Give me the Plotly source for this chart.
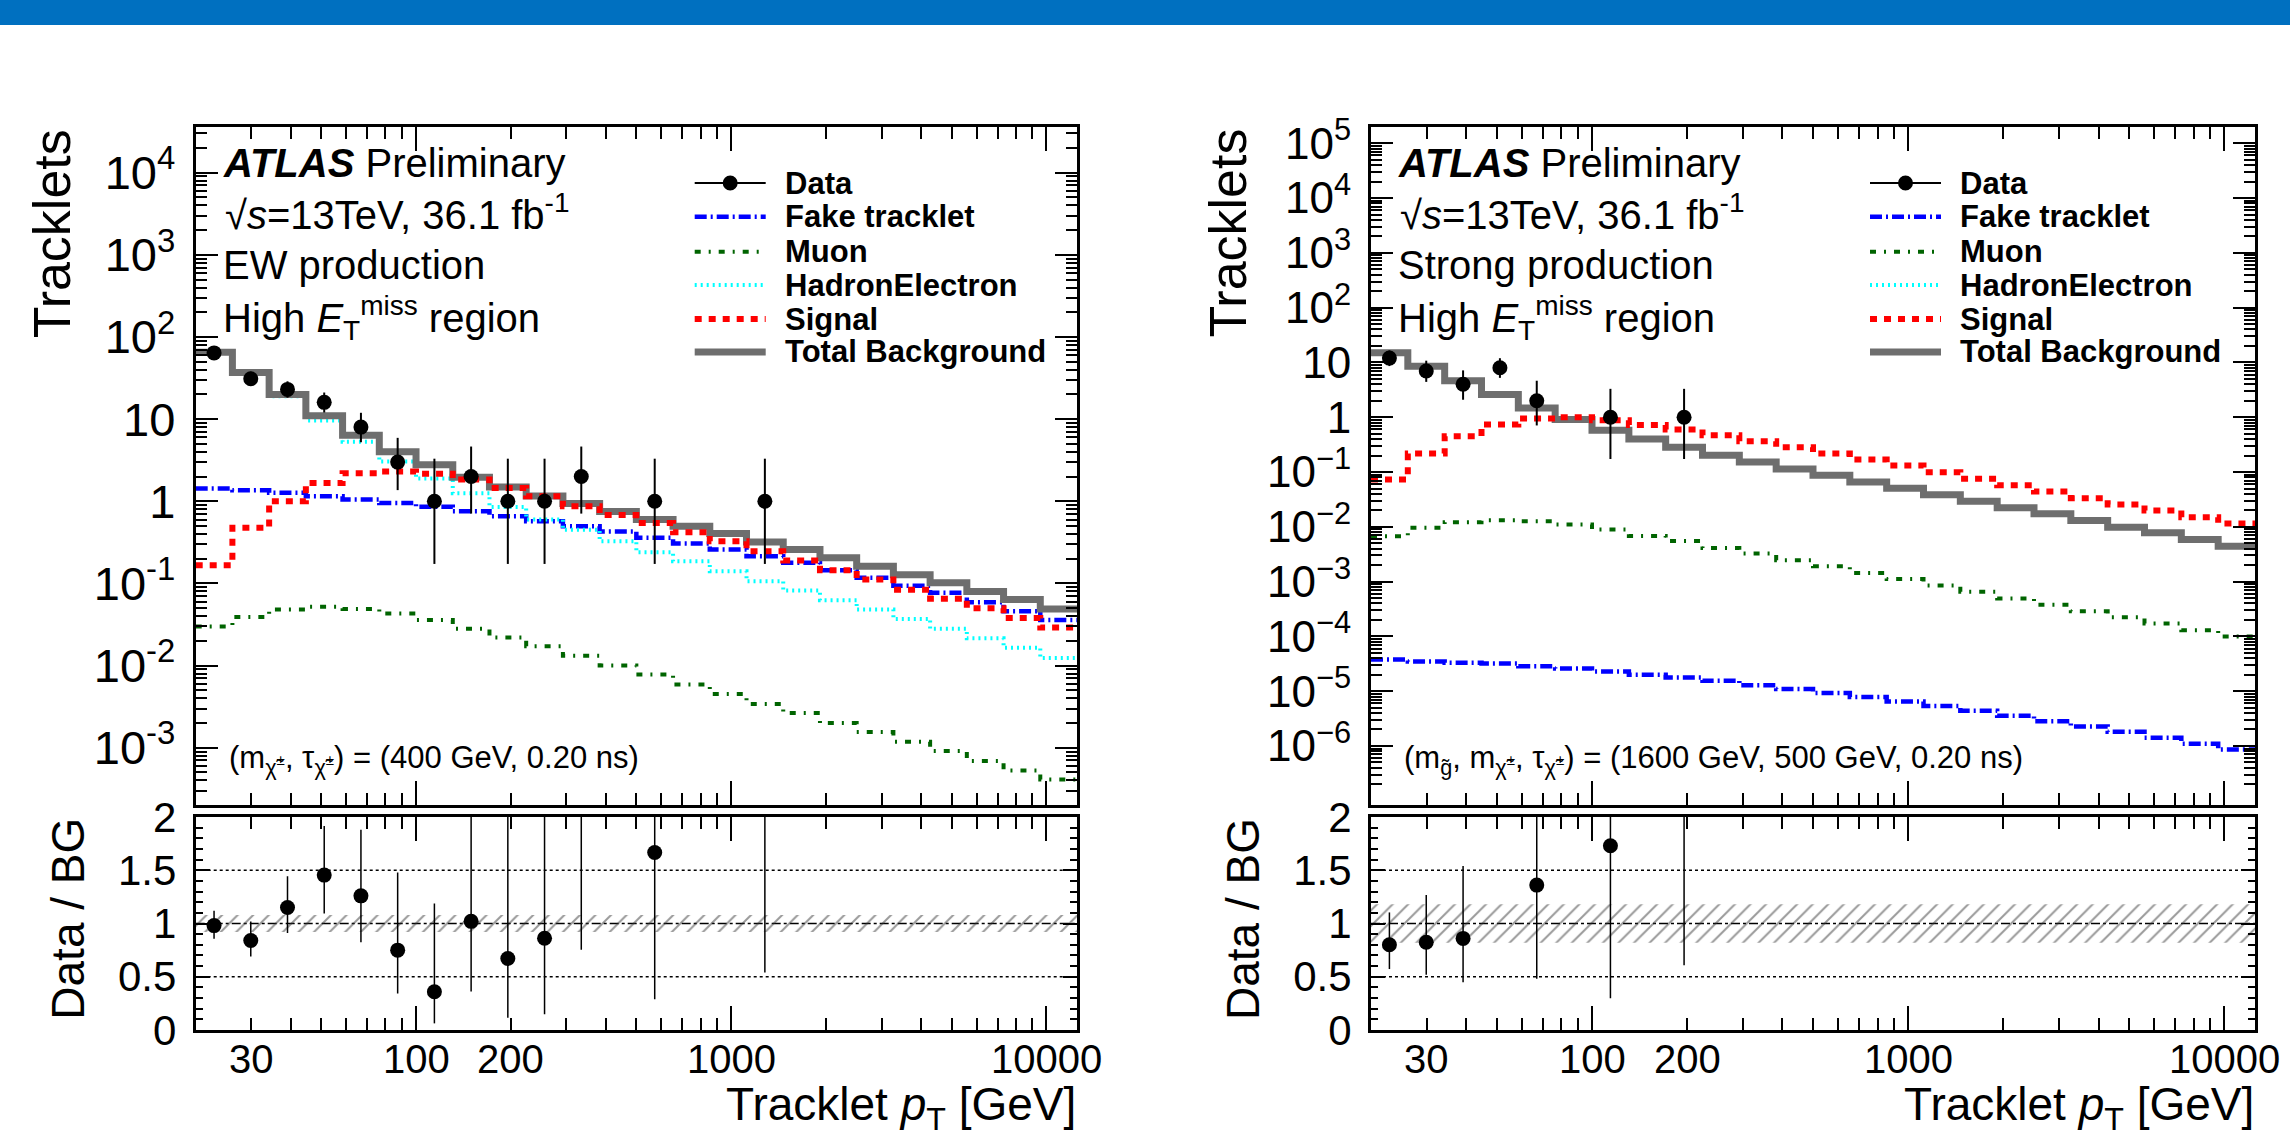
import math
import plotly.graph_objects as go

# ---------------- data ----------------
EDGES = [20, 26.15, 34.20, 44.72, 58.48, 76.47, 100, 130.8, 171.0, 223.6, 292.4, 382.4,
         500, 653.8, 855.0, 1118, 1462, 1912, 2500, 3269, 4275, 5590, 7310, 9560, 12500]

# EW production (left)
EW_DATA = [64, 31, 23, 16, 8, 3, 1, 2, 1, 1, 2, 0, 1, 0, 0, 1, 0, 0, 0, 0, 0, 0, 0, 0]
EW_TOTAL = [65.3, 36.9, 20.0, 11.0, 6.35, 4.0, 2.78, 1.96, 1.49, 1.16, 0.94, 0.75, 0.60, 0.497,
            0.405, 0.32, 0.258, 0.205, 0.162, 0.128, 0.1016, 0.080, 0.0637, 0.049]
EW_FAKE = [1.43, 1.36, 1.27, 1.15, 1.05, 0.955, 0.855, 0.755, 0.657, 0.57, 0.497, 0.43, 0.36,
           0.306, 0.258, 0.214, 0.178, 0.145, 0.117, 0.094, 0.077, 0.059, 0.046, 0.036]
EW_MUON = [0.030, 0.039, 0.048, 0.052, 0.049, 0.043, 0.036, 0.028, 0.022, 0.0172, 0.0132, 0.010,
           0.0078, 0.0059, 0.0045, 0.0034, 0.00264, 0.0020, 0.00155, 0.00118, 0.00091, 0.00069,
           0.00053, 0.00041]
EW_HADELEC = [63.8, 35.5, 19.0, 9.6, 5.3, 3.05, 1.9, 1.25, 0.85, 0.60, 0.45, 0.326, 0.24, 0.186,
              0.141, 0.1065, 0.082, 0.0626, 0.048, 0.037, 0.028, 0.0215, 0.0165, 0.0124]
EW_SIGNAL = [0.167, 0.475, 1.0, 1.67, 2.2, 2.3, 2.17, 1.84, 1.45, 1.15, 0.87, 0.68, 0.545, 0.42,
             0.326, 0.247, 0.19, 0.145, 0.112, 0.084, 0.065, 0.05, 0.038, 0.029]
EW_BG_REL_UNC = 0.08

# Strong production (right)
ST_DATA = [12, 7, 4, 8, 2, 0, 1, 0, 1, 0, 0, 0, 0, 0, 0, 0, 0, 0, 0, 0, 0, 0, 0, 0]
ST_TOTAL = [15.0, 8.5, 4.65, 2.6, 1.47, 0.91, 0.578, 0.40, 0.284, 0.202, 0.153, 0.114, 0.0875,
            0.066, 0.0506, 0.0383, 0.0293, 0.0222, 0.0173, 0.013, 0.00984, 0.00776, 0.00586, 0.00443]
ST_FAKE = [3.8e-5, 3.5e-5, 3.3e-5, 3.2e-5, 2.86e-5, 2.6e-5, 2.3e-5, 2.0e-5, 1.77e-5, 1.55e-5,
           1.29e-5, 1.1e-5, 9.3e-6, 7.8e-6, 6.5e-6, 5.35e-6, 4.4e-6, 3.56e-6, 2.84e-6, 2.27e-6,
           1.82e-6, 1.41e-6, 1.1e-6, 8.6e-7]
ST_MUON = [0.0067, 0.0096, 0.0121, 0.0132, 0.0126, 0.011, 0.0089, 0.0068, 0.0055, 0.0041, 0.00326,
           0.00246, 0.00191, 0.00144, 0.00112, 0.00085, 0.00065, 0.00049, 0.00038, 0.000288,
           0.000224, 0.000172, 0.00013, 0.0001]
ST_HADELEC = [15.0, 8.5, 4.64, 2.59, 1.46, 0.90, 0.57, 0.393, 0.278, 0.198, 0.150, 0.1115, 0.0855,
              0.0646, 0.0495, 0.0375, 0.0286, 0.0217, 0.0169, 0.0127, 0.0096, 0.0076, 0.0057, 0.0043]
ST_SIGNAL = [0.073, 0.217, 0.45, 0.736, 0.946, 1.0, 0.88, 0.72, 0.60, 0.47, 0.365, 0.284, 0.217,
             0.169, 0.131, 0.0993, 0.075, 0.0575, 0.044, 0.0333, 0.0255, 0.0198, 0.015, 0.0115]
ST_BG_REL_UNC = 0.18

X_TICK_LABELS = [30, 100, 200, 1000, 10000]

# ---------------- geometry helpers ----------------
W, H = 2290, 1143


def px(x):
    return x / W


def py(y):
    return 1 - y / H


L_X0, L_X1 = 195.7, 1077.0
R_X0, R_X1 = 1371.0, 2255.0
MAIN_TOP, MAIN_BOT = 127.0, 805.0
RAT_TOP, RAT_BOT = 817.0, 1030.0

FONT = "Liberation Sans, Arial, Helvetica, sans-serif"

CENTERS = [math.sqrt(EDGES[i] * EDGES[i + 1]) for i in range(len(EDGES) - 1)]


def garwood(n):
    a = 0.158655

    def cdf(k, mu):
        term = math.exp(-mu)
        s = term
        for i in range(1, k + 1):
            term *= mu / i
            s += term
        return s

    lo, hi = 0.0, n + 30 + 10 * math.sqrt(n + 1)
    for _ in range(80):
        mid = (lo + hi) / 2
        if cdf(n, mid) > a:
            lo = mid
        else:
            hi = mid
    up = (lo + hi) / 2
    if n == 0:
        low = 0.0
    else:
        lo, hi = 0.0, float(n) + 1
        for _ in range(80):
            mid = (lo + hi) / 2
            if cdf(n - 1, mid) > 1 - a:
                lo = mid
            else:
                hi = mid
        low = (lo + hi) / 2
    return n - low, up - n


def step_xy(vals):
    return EDGES, list(vals) + [vals[-1]]


STYLES = {
    "Fake tracklet": dict(color="#0000ff", width=4.5, dash="12px,4px,2px,4px"),
    "Muon": dict(color="#006400", width=4, dash="6px,8px,2px,8px"),
    "HadronElectron": dict(color="#00ffff", width=4, dash="2px,4px"),
    "Signal": dict(color="#ff0000", width=6, dash="7px,7px"),
    "Total Background": dict(color="#6e6e6e", width=7, dash="solid"),
}

fig = go.Figure()

panels = [
    dict(xa="x", ya="y", xr="x3", yr="y3", data=EW_DATA, total=EW_TOTAL, fake=EW_FAKE,
         muon=EW_MUON, had=EW_HADELEC, sig=EW_SIGNAL, unc=EW_BG_REL_UNC),
    dict(xa="x2", ya="y2", xr="x4", yr="y4", data=ST_DATA, total=ST_TOTAL, fake=ST_FAKE,
         muon=ST_MUON, had=ST_HADELEC, sig=ST_SIGNAL, unc=ST_BG_REL_UNC),
]

for p in panels:
    # ---- main panel ----
    for name, vals in [("Fake tracklet", p["fake"]), ("Muon", p["muon"]),
                       ("HadronElectron", p["had"]), ("Total Background", p["total"]),
                       ("Signal", p["sig"])]:
        xs, ys = step_xy(vals)
        st = STYLES[name]
        fig.add_trace(go.Scatter(x=xs, y=ys, mode="lines", line_shape="hv", name=name,
                                 line=dict(color=st["color"], width=st["width"], dash=st["dash"]),
                                 xaxis=p["xa"], yaxis=p["ya"], showlegend=False, hoverinfo="skip"))
    dx, dy, eup, edn = [], [], [], []
    rx, ry, rup, rdn = [], [], [], []
    for c, n, b in zip(CENTERS, p["data"], p["total"]):
        if n <= 0:
            continue
        lo, hi = garwood(n)
        dx.append(c); dy.append(n); eup.append(hi); edn.append(lo)
        rx.append(c); ry.append(n / b); rup.append(hi / b); rdn.append(lo / b)
    fig.add_trace(go.Scatter(x=dx, y=dy, mode="markers", name="Data",
                             marker=dict(color="black", size=15),
                             error_y=dict(type="data", symmetric=False, array=eup, arrayminus=edn,
                                          color="black", thickness=2, width=0),
                             xaxis=p["xa"], yaxis=p["ya"], showlegend=False))
    # ---- ratio panel ----
    fig.add_trace(go.Scatter(x=[EDGES[0], EDGES[-1]], y=[1 - p["unc"], 1 - p["unc"]],
                             mode="lines", line=dict(width=0), xaxis=p["xr"], yaxis=p["yr"],
                             showlegend=False, hoverinfo="skip"))
    fig.add_trace(go.Scatter(x=[EDGES[0], EDGES[-1]], y=[1 + p["unc"], 1 + p["unc"]],
                             mode="lines", line=dict(width=0), fill="tonexty",
                             fillcolor="rgba(0,0,0,0)",
                             fillpattern=dict(shape="/", fgcolor="#333333", bgcolor="rgba(0,0,0,0)",
                                              size=11, solidity=0.18),
                             xaxis=p["xr"], yaxis=p["yr"], showlegend=False, hoverinfo="skip"))
    fig.add_trace(go.Scatter(x=rx, y=ry, mode="markers", name="Data / BG",
                             marker=dict(color="black", size=15),
                             error_y=dict(type="data", symmetric=False, array=rup, arrayminus=rdn,
                                          color="black", thickness=1.5, width=0),
                             xaxis=p["xr"], yaxis=p["yr"], showlegend=False))

# ---------------- axes ----------------
XMINOR = [m * 10 ** d for d in (1, 2, 3) for m in range(2, 10) if 20 <= m * 10 ** d <= 12500]
XRANGE = [math.log10(EDGES[0]), math.log10(EDGES[-1])]


def xaxis(domain, anchor):
    return dict(type="log", range=XRANGE, domain=domain, anchor=anchor, showline=True,
                linecolor="black", linewidth=3, mirror="ticks", ticks="inside",
                tickvals=[100, 1000, 10000], ticklen=24, tickwidth=2, tickcolor="black",
                showticklabels=False, showgrid=False, zeroline=False, automargin=False,
                minor=dict(ticks="inside", tickvals=XMINOR, ticklen=12, tickwidth=2,
                           tickcolor="black", showgrid=False))


def logy(domain, anchor, rng, dmin, dmax, minus, fsize):
    vals = [10.0 ** d for d in range(dmin, dmax + 1)]
    texts = []
    for d in range(dmin, dmax + 1):
        if d == 0:
            texts.append("1")
        elif d == 1:
            texts.append("10")
        elif d < 0:
            texts.append("10<sup>%s%d</sup>" % (minus, -d))
        else:
            texts.append("10<sup>%d</sup>" % d)
    minor = [m * 10.0 ** d for d in range(dmin - 1, dmax + 1) for m in range(2, 10)]
    return dict(type="log", range=rng, domain=domain, anchor=anchor, showline=True,
                linecolor="black", linewidth=3, mirror="ticks", ticks="inside",
                tickvals=vals, ticktext=texts, ticklen=22, tickwidth=2, tickcolor="black",
                tickfont=dict(family=FONT, size=fsize, color="black"), ticklabelstandoff=8,
                showgrid=False, zeroline=False, automargin=False,
                minor=dict(ticks="inside", tickvals=minor, ticklen=11, tickwidth=2,
                           tickcolor="black", showgrid=False))


def ratioy(domain, anchor):
    return dict(range=[0, 2], domain=domain, anchor=anchor, showline=True, linecolor="black",
                linewidth=3, mirror="ticks", ticks="inside", tickvals=[0, 0.5, 1, 1.5, 2],
                ticktext=["0", "0.5", "1", "1.5", "2"], ticklen=14, tickwidth=2,
                tickcolor="black", tickfont=dict(family=FONT, size=42, color="black"),
                ticklabelstandoff=8, showgrid=False, zeroline=False, automargin=False,
                minor=dict(ticks="inside", dtick=0.1, ticklen=7, tickwidth=1.5,
                           tickcolor="black", showgrid=False))


main_dom = [py(MAIN_BOT), py(MAIN_TOP)]
rat_dom = [py(RAT_BOT), py(RAT_TOP)]
L_dom = [px(L_X0), px(L_X1)]
R_dom = [px(R_X0), px(R_X1)]

fig.update_layout(
    width=W, height=H, margin=dict(l=0, r=0, t=0, b=0, pad=0, autoexpand=False),
    paper_bgcolor="white", plot_bgcolor="white", showlegend=False,
    font=dict(family=FONT, color="black"),
    xaxis=xaxis(L_dom, "y"), yaxis=logy(main_dom, "x", [-3.697, 4.556], -3, 4, "-", 47),
    xaxis2=xaxis(R_dom, "y2"), yaxis2=logy(main_dom, "x2", [-7.077, 5.297], -6, 5, "−", 44),
    xaxis3=xaxis(L_dom, "y3"), yaxis3=ratioy(rat_dom, "x3"),
    xaxis4=xaxis(R_dom, "y4"), yaxis4=ratioy(rat_dom, "x4"),
)

shapes = []
annots = []

# top banner
shapes.append(dict(type="rect", xref="paper", yref="paper", x0=0, x1=1, y0=py(25), y1=1,
                   fillcolor="#0070c0", line=dict(width=0), layer="below"))

# ratio reference lines
for xr, yr in (("x3", "y3"), ("x4", "y4")):
    for yv, dash in ((0.5, "dot"), (1.5, "dot"), (1.0, "dashdot")):
        shapes.append(dict(type="line", xref=xr + " domain", yref=yr, x0=0, x1=1, y0=yv, y1=yv,
                           line=dict(color="black", width=1.5, dash=dash), layer="below"))


def text(x, y, s, size, xanchor="left", yanchor="middle", angle=0):
    annots.append(dict(x=px(x), y=py(y), xref="paper", yref="paper", text=s, showarrow=False,
                       xanchor=xanchor, yanchor=yanchor, textangle=angle, borderpad=0,
                       font=dict(family=FONT, size=size, color="black")))


LEG_NAMES = ["Data", "Fake tracklet", "Muon", "HadronElectron", "Signal", "Total Background"]
LEG_Y = [183, 216.7, 251.7, 285, 319, 352]

panel_info = [
    (L_X0, L_X1, "x3", "EW production",
     "(m<sub>χ̃<sup>±</sup></sub>, τ<sub>χ̃<sup>±</sup></sub>) = (400 GeV, 0.20 ns)"),
    (R_X0, R_X1, "x4", "Strong production",
     "(m<sub>g̃</sub>, m<sub>χ̃<sup>±</sup></sub>, τ<sub>χ̃<sup>±</sup></sub>) = (1600 GeV, 500 GeV, 0.20 ns)"),
]

for x0, x1, xr, prod, model in panel_info:
    # labels
    text(x0 + 26, 163, "<b><i>ATLAS</i></b> Preliminary", 40)
    text(x0 + 28, 212, "√<i>s</i>=13TeV, 36.1 fb<sup>-1</sup>", 40)
    text(x0 + 26, 265, prod, 40)
    text(x0 + 26, 318, "High <i>E</i><sub>T</sub><sup>miss</sup> region", 40)
    text(x0 + 32, 760, model, 31)
    # axis titles
    text(x0 - 143, MAIN_TOP + 1, "Tracklets", 52, xanchor="center", yanchor="top", angle=-90)
    text(x0 - 128, RAT_TOP, "Data / BG", 46, xanchor="center", yanchor="top", angle=-90)
    text(x1, 1107, "Tracklet <i>p</i><sub>T</sub> [GeV]", 46, xanchor="right")
    # x tick labels (ROOT-style: 30, 100, 200, 1000, 10000)
    for v in X_TICK_LABELS:
        annots.append(dict(x=math.log10(v), y=py(1059), xref=xr, yref="paper", text=str(v),
                           showarrow=False, xanchor="center", yanchor="middle", borderpad=0,
                           font=dict(family=FONT, size=40, color="black")))
    # legend
    sx0, sx1 = x0 + 499, x0 + 570
    tx = x0 + 588
    for name, ly in zip(LEG_NAMES, LEG_Y):
        if name == "Data":
            shapes.append(dict(type="line", xref="paper", yref="paper", x0=px(sx0), x1=px(sx1),
                               y0=py(ly), y1=py(ly), line=dict(color="black", width=2)))
            cx = (sx0 + sx1) / 2
            shapes.append(dict(type="circle", xref="paper", yref="paper", x0=px(cx - 7.5),
                               x1=px(cx + 7.5), y0=py(ly + 7.5), y1=py(ly - 7.5),
                               fillcolor="black", line=dict(color="black", width=0)))
        else:
            st = STYLES[name]
            shapes.append(dict(type="line", xref="paper", yref="paper", x0=px(sx0), x1=px(sx1),
                               y0=py(ly), y1=py(ly),
                               line=dict(color=st["color"], width=st["width"], dash=st["dash"])))
        text(tx, ly, "<b>%s</b>" % name, 31)

fig.update_layout(shapes=shapes, annotations=annots)

fig.write_html("out.html", config={"displayModeBar": False},
               post_script="document.body.style.margin='0px';")
